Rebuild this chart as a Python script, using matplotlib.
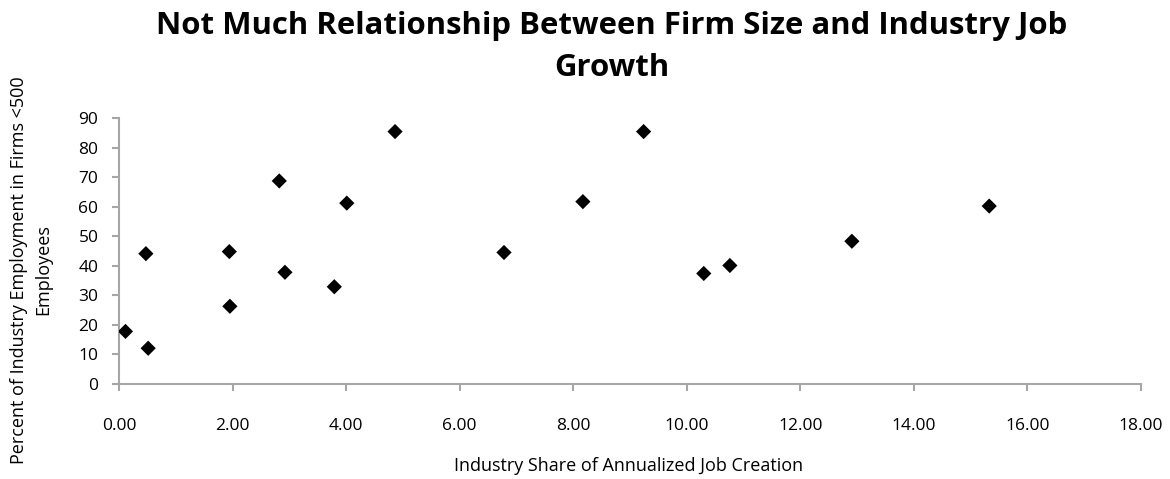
import matplotlib.pyplot as plt
import numpy as np

# industry share of annualized job creation vs. share employed in small firms
job_share = [0.11, 0.47, 0.51, 1.94, 1.95, 2.82, 2.92, 3.79, 4.01, 4.86,
             6.78, 8.17, 9.24, 10.30, 10.76, 12.91, 15.33]
small_firm_pct = [17.8, 44.1, 12.1, 44.8, 26.3, 68.7, 37.8, 32.9, 61.2, 85.4,
                  44.5, 61.7, 85.4, 37.4, 40.1, 48.3, 60.2]

x_ticks = np.arange(0, 18.01, 2)
y_ticks = np.arange(0, 91, 10)

plt.rcParams['font.family'] = ['Open Sans', 'DejaVu Sans']

fig = plt.figure(figsize=(11.7, 4.79), dpi=100)
ax = fig.add_axes([0.1019, 0.1983, 0.8731, 0.5554])

ax.scatter(job_share, small_firm_pct, marker='D', s=60, color='black',
           edgecolors='none', zorder=3)

ax.set_xlim(0, 18)
ax.set_ylim(0, 90)
ax.set_xticks(x_ticks)
ax.set_xticklabels(['%.2f' % v for v in x_ticks])
ax.set_yticks(y_ticks)

for side in ['top', 'right']:
    ax.spines[side].set_visible(False)
for side in ['left', 'bottom']:
    ax.spines[side].set_color('#a6a6a6')
    ax.spines[side].set_linewidth(1.5)
ax.tick_params(axis='both', colors='#a6a6a6', length=5, width=1.5,
               labelcolor='black', labelsize=12.5)
ax.tick_params(axis='x', pad=19.5)
ax.tick_params(axis='y', pad=10)

# axis titles placed in figure coordinates
fig.text(629 / 1170, 1 - 466 / 479, 'Industry Share of Annualized Job Creation',
         ha='center', va='center', fontsize=13)
fig.text(31.5 / 1170, 1 - 270 / 479,
         'Percent of Industry Employment in Firms <500\nEmployees',
         ha='center', va='center', rotation=90, fontsize=13, linespacing=1.45,
         multialignment='center')

fig.text(612 / 1170, 0.902,
         'Not Much Relationship Between Firm Size and Industry Job\nGrowth',
         ha='center', va='center', fontsize=22.4, fontweight='bold',
         linespacing=1.5)

fig.savefig('out.png', dpi=100)
